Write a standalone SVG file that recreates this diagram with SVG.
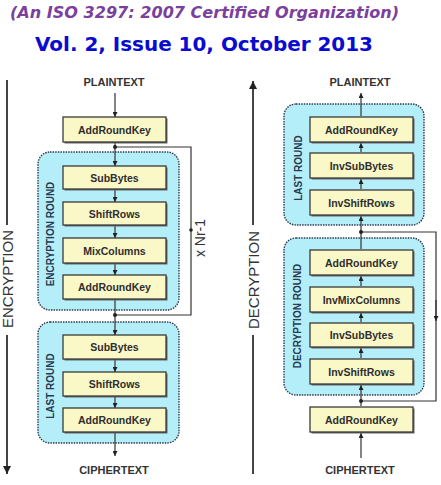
<svg xmlns="http://www.w3.org/2000/svg" width="441" height="485" viewBox="0 0 441 485">
<defs>
<style>
.hdr1{font-family:"DejaVu Sans","Verdana",sans-serif;font-weight:bold;font-style:italic;font-size:15px;fill:#7b3f9e}
.hdr2{font-family:"DejaVu Sans","Verdana",sans-serif;font-weight:bold;font-size:20px;fill:#0a0ad0}
.region{fill:#b4eef9;stroke:#2c3a4c;stroke-width:1.4;stroke-dasharray:1.5 1.1}
.box{fill:#fbf8c8;stroke:#3a3a3a;stroke-width:1.3}
.shadow{fill:#666}
.lbl{font-family:"Liberation Sans",Arial,sans-serif;font-weight:bold;font-size:10.5px;fill:#2e2e2e;text-anchor:middle}
.io{font-family:"Liberation Sans",Arial,sans-serif;font-weight:bold;font-size:11px;fill:#333;text-anchor:middle}
.rnd{font-family:"Liberation Sans",Arial,sans-serif;font-weight:bold;font-size:10px;fill:#2a3a50;text-anchor:middle}
.side{font-family:"Liberation Sans",Arial,sans-serif;font-size:15px;fill:#333;text-anchor:middle}
.nr{font-family:"Liberation Sans",Arial,sans-serif;font-size:14px;fill:#333;text-anchor:middle}
.ln{fill:none;stroke:#333;stroke-width:1.2}
.big{fill:none;stroke:#444;stroke-width:2}
.dot{fill:#222}
</style>
<marker id="ah" viewBox="0 0 10 10" refX="10" refY="5" markerWidth="5" markerHeight="5" markerUnits="userSpaceOnUse" orient="auto">
<path d="M0,0 L10,5 L0,10 z" fill="#222"/>
</marker>
<marker id="bh" viewBox="0 0 10 10" refX="10" refY="5" markerWidth="8" markerHeight="8" markerUnits="userSpaceOnUse" orient="auto">
<path d="M0,0 L10,5 L0,10 z" fill="#222"/>
</marker>
</defs>

<g id="header">
<text class="hdr1" x="10" y="18" textLength="389" lengthAdjust="spacingAndGlyphs">(An ISO 3297: 2007 Certified Organization)</text>
<text class="hdr2" x="35" y="51" textLength="338" lengthAdjust="spacingAndGlyphs">Vol. 2, Issue 10, October 2013</text>
</g>

<!-- Regions -->
<g id="enc-round-region"><rect class="region" x="38" y="152" width="141" height="158" rx="12"/>
<text class="rnd" transform="translate(54,234) rotate(-90)">ENCRYPTION ROUND</text></g>
<g id="enc-last-region"><rect class="region" x="38" y="322" width="141" height="121" rx="12"/>
<text class="rnd" transform="translate(54,386) rotate(-90)">LAST ROUND</text></g>
<g id="dec-last-region"><rect class="region" x="284" y="104" width="140" height="121" rx="12"/>
<text class="rnd" transform="translate(302,168) rotate(-90)">LAST ROUND</text></g>
<g id="dec-round-region"><rect class="region" x="284" y="238" width="140" height="157" rx="12"/>
<text class="rnd" transform="translate(301,316) rotate(-90)">DECRYPTION ROUND</text></g>

<g id="connectors">
<line class="big" x1="7" y1="80" x2="7" y2="225"/>
<line class="big" x1="7" y1="335" x2="7" y2="474" marker-end="url(#bh)"/>
<line class="big" x1="253" y1="474" x2="253" y2="335"/>
<line class="big" x1="253" y1="225" x2="253" y2="81" marker-end="url(#bh)"/>
<line class="ln" x1="115" y1="93" x2="115" y2="117" marker-end="url(#ah)"/>
<line class="ln" x1="115" y1="143" x2="115" y2="166" marker-end="url(#ah)"/>
<line class="ln" x1="115" y1="190" x2="115" y2="202" marker-end="url(#ah)"/>
<line class="ln" x1="115" y1="226" x2="115" y2="238" marker-end="url(#ah)"/>
<line class="ln" x1="115" y1="264" x2="115" y2="275" marker-end="url(#ah)"/>
<line class="ln" x1="115" y1="300" x2="115" y2="335" marker-end="url(#ah)"/>
<line class="ln" x1="115" y1="360" x2="115" y2="372" marker-end="url(#ah)"/>
<line class="ln" x1="115" y1="397" x2="115" y2="408" marker-end="url(#ah)"/>
<line class="ln" x1="115" y1="433" x2="115" y2="456" marker-end="url(#ah)"/>
<polyline class="ln" points="115,315 191,315 191,147 115,147"/>
<circle class="dot" cx="115" cy="147" r="2"/>
<circle class="dot" cx="115" cy="315" r="2"/>
<circle class="dot" cx="191" cy="230" r="1.8"/>
<line class="ln" x1="361" y1="458" x2="361" y2="433" marker-end="url(#ah)"/>
<line class="ln" x1="361" y1="406" x2="361" y2="385" marker-end="url(#ah)"/>
<line class="ln" x1="361" y1="358" x2="361" y2="348" marker-end="url(#ah)"/>
<line class="ln" x1="361" y1="322" x2="361" y2="313" marker-end="url(#ah)"/>
<line class="ln" x1="361" y1="286" x2="361" y2="276" marker-end="url(#ah)"/>
<line class="ln" x1="361" y1="249" x2="361" y2="216" marker-end="url(#ah)"/>
<line class="ln" x1="361" y1="189" x2="361" y2="179" marker-end="url(#ah)"/>
<line class="ln" x1="361" y1="152" x2="361" y2="143" marker-end="url(#ah)"/>
<line class="ln" x1="361" y1="116" x2="361" y2="93" marker-end="url(#ah)"/>
<polyline class="ln" points="361,232 436,232 436,401 361,401"/>
<line class="ln" x1="436" y1="300" x2="436" y2="321" marker-end="url(#ah)"/>
<circle class="dot" cx="361" cy="232" r="2"/>
<circle class="dot" cx="361" cy="401" r="2"/>
</g>

<g id="labels">
<text class="side" transform="translate(12.5,279) rotate(-90)">ENCRYPTION</text>
<text class="side" transform="translate(258.5,280) rotate(-90)">DECRYPTION</text>
<text class="nr" transform="translate(205,238) rotate(-90)">x Nr-1</text>
</g>

<g id="enc-plaintext"><text class="io" x="114" y="86">PLAINTEXT</text></g>
<g id="enc-ciphertext"><text class="io" x="114" y="474">CIPHERTEXT</text></g>
<g id="dec-plaintext"><text class="io" x="360" y="86">PLAINTEXT</text></g>
<g id="dec-ciphertext"><text class="io" x="360" y="474">CIPHERTEXT</text></g>

<g id="e-ark0"><rect class="shadow" x="64.5" y="118.5" width="103" height="25"/><rect class="box" x="63" y="117" width="103" height="25"/><text class="lbl" x="114.5" y="133.5">AddRoundKey</text></g>
<g id="e-sub"><rect class="shadow" x="64.5" y="167.5" width="103" height="23"/><rect class="box" x="63" y="166" width="103" height="23"/><text class="lbl" x="114.5" y="181.5">SubBytes</text></g>
<g id="e-shift"><rect class="shadow" x="64.5" y="203.5" width="103" height="23"/><rect class="box" x="63" y="202" width="103" height="23"/><text class="lbl" x="114.5" y="217.5">ShiftRows</text></g>
<g id="e-mix"><rect class="shadow" x="64.5" y="239.5" width="103" height="25"/><rect class="box" x="63" y="238" width="103" height="25"/><text class="lbl" x="114.5" y="254.5">MixColumns</text></g>
<g id="e-ark1"><rect class="shadow" x="64.5" y="276.5" width="103" height="24"/><rect class="box" x="63" y="275" width="103" height="24"/><text class="lbl" x="114.5" y="291">AddRoundKey</text></g>
<g id="e-sub2"><rect class="shadow" x="64.5" y="336.5" width="103" height="24"/><rect class="box" x="63" y="335" width="103" height="24"/><text class="lbl" x="114.5" y="351">SubBytes</text></g>
<g id="e-shift2"><rect class="shadow" x="64.5" y="373.5" width="103" height="24"/><rect class="box" x="63" y="372" width="103" height="24"/><text class="lbl" x="114.5" y="388">ShiftRows</text></g>
<g id="e-ark2"><rect class="shadow" x="64.5" y="409.5" width="103" height="24"/><rect class="box" x="63" y="408" width="103" height="24"/><text class="lbl" x="114.5" y="424">AddRoundKey</text></g>

<g id="d-ark-last"><rect class="shadow" x="311.5" y="118.5" width="103" height="25"/><rect class="box" x="310" y="117" width="103" height="25"/><text class="lbl" x="361.5" y="133.5">AddRoundKey</text></g>
<g id="d-invsub-last"><rect class="shadow" x="311.5" y="154.5" width="103" height="25"/><rect class="box" x="310" y="153" width="103" height="25"/><text class="lbl" x="361.5" y="169.5">InvSubBytes</text></g>
<g id="d-invshift-last"><rect class="shadow" x="311.5" y="191.5" width="103" height="25"/><rect class="box" x="310" y="190" width="103" height="25"/><text class="lbl" x="361.5" y="206.5">InvShiftRows</text></g>
<g id="d-ark"><rect class="shadow" x="311.5" y="251.5" width="103" height="25"/><rect class="box" x="310" y="250" width="103" height="25"/><text class="lbl" x="361.5" y="266.5">AddRoundKey</text></g>
<g id="d-invmix"><rect class="shadow" x="311.5" y="288.5" width="103" height="25"/><rect class="box" x="310" y="287" width="103" height="25"/><text class="lbl" x="361.5" y="303.5">InvMixColumns</text></g>
<g id="d-invsub"><rect class="shadow" x="311.5" y="324.5" width="103" height="24"/><rect class="box" x="310" y="323" width="103" height="24"/><text class="lbl" x="361.5" y="339">InvSubBytes</text></g>
<g id="d-invshift"><rect class="shadow" x="311.5" y="360.5" width="103" height="25"/><rect class="box" x="310" y="359" width="103" height="25"/><text class="lbl" x="361.5" y="375.5">InvShiftRows</text></g>
<g id="d-ark0"><rect class="shadow" x="311.5" y="408.5" width="103" height="25"/><rect class="box" x="310" y="407" width="103" height="25"/><text class="lbl" x="361.5" y="423.5">AddRoundKey</text></g>
</svg>
